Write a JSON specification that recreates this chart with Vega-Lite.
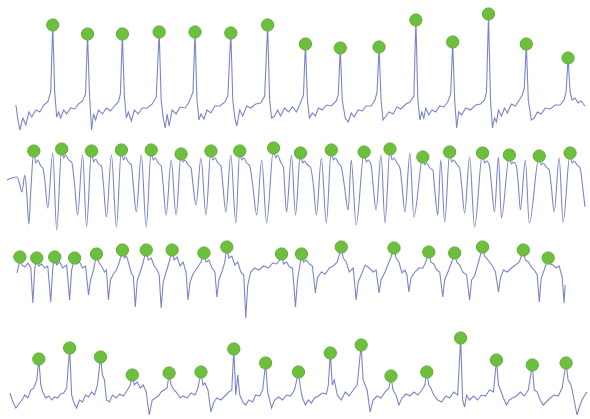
{
"$schema":"https://vega.github.io/schema/vega-lite/v6.json",
"width":590,"height":419,"autosize":{"type":"fit","contains":"padding"},"padding":0,
"background":"white",
"config":{"view":{"stroke":null}},
"data":{"values":[
{"s":1,"x":16,"y":105},{"s":1,"x":18,"y":120},{"s":1,"x":20,"y":130},{"s":1,"x":23,"y":118},{"s":1,"x":26,"y":125},{"s":1,"x":29,"y":112},{"s":1,"x":32,"y":117},{"s":1,"x":36,"y":110},{"s":1,"x":40,"y":112},{"s":1,"x":44,"y":105},{"s":1,"x":48,"y":102},{"s":1,"x":51,"y":92},{"s":1,"x":53,"y":25,"pk":1},{"s":1,"x":55,"y":92},{"s":1,"x":57,"y":117},{"s":1,"x":59,"y":112},{"s":1,"x":61,"y":118},{"s":1,"x":64,"y":110},{"s":1,"x":67,"y":114},{"s":1,"x":71,"y":108},{"s":1,"x":75,"y":109},{"s":1,"x":79,"y":104},{"s":1,"x":83,"y":101},{"s":1,"x":86,"y":94},{"s":1,"x":88,"y":34,"pk":1},{"s":1,"x":90,"y":96},{"s":1,"x":92,"y":130},{"s":1,"x":94,"y":114},{"s":1,"x":96,"y":120},{"s":1,"x":99,"y":110},{"s":1,"x":103,"y":114},{"s":1,"x":107,"y":108},{"s":1,"x":111,"y":111},{"s":1,"x":115,"y":106},{"s":1,"x":119,"y":102},{"s":1,"x":121,"y":94},{"s":1,"x":123,"y":34,"pk":1},{"s":1,"x":125,"y":96},{"s":1,"x":127,"y":118},{"s":1,"x":129,"y":112},{"s":1,"x":132,"y":121},{"s":1,"x":135,"y":110},{"s":1,"x":139,"y":114},{"s":1,"x":143,"y":108},{"s":1,"x":148,"y":108},{"s":1,"x":153,"y":104},{"s":1,"x":157,"y":97},{"s":1,"x":160,"y":32,"pk":1},{"s":1,"x":162,"y":100},{"s":1,"x":164,"y":118},{"s":1,"x":166,"y":128},{"s":1,"x":168,"y":114},{"s":1,"x":170,"y":126},{"s":1,"x":173,"y":110},{"s":1,"x":177,"y":114},{"s":1,"x":181,"y":107},{"s":1,"x":186,"y":108},{"s":1,"x":190,"y":102},{"s":1,"x":194,"y":92},{"s":1,"x":196,"y":32,"pk":1},{"s":1,"x":198,"y":100},{"s":1,"x":200,"y":120},{"s":1,"x":202,"y":114},{"s":1,"x":205,"y":119},{"s":1,"x":208,"y":110},{"s":1,"x":212,"y":113},{"s":1,"x":216,"y":106},{"s":1,"x":221,"y":106},{"s":1,"x":226,"y":102},{"s":1,"x":229,"y":96},{"s":1,"x":232,"y":33,"pk":1},{"s":1,"x":234,"y":100},{"s":1,"x":236,"y":118},{"s":1,"x":238,"y":126},{"s":1,"x":241,"y":110},{"s":1,"x":244,"y":116},{"s":1,"x":248,"y":106},{"s":1,"x":252,"y":108},{"s":1,"x":257,"y":104},{"s":1,"x":262,"y":103},{"s":1,"x":266,"y":96},{"s":1,"x":269,"y":25,"pk":1},{"s":1,"x":271,"y":100},{"s":1,"x":273,"y":118},{"s":1,"x":276,"y":116},{"s":1,"x":279,"y":110},{"s":1,"x":282,"y":116},{"s":1,"x":286,"y":108},{"s":1,"x":290,"y":112},{"s":1,"x":294,"y":107},{"s":1,"x":298,"y":112},{"s":1,"x":302,"y":103},{"s":1,"x":305,"y":95},{"s":1,"x":307,"y":44,"pk":1},{"s":1,"x":309,"y":100},{"s":1,"x":311,"y":118},{"s":1,"x":314,"y":113},{"s":1,"x":317,"y":116},{"s":1,"x":320,"y":108},{"s":1,"x":324,"y":110},{"s":1,"x":328,"y":105},{"s":1,"x":333,"y":106},{"s":1,"x":338,"y":101},{"s":1,"x":340,"y":95},{"s":1,"x":342,"y":48,"pk":1},{"s":1,"x":344,"y":100},{"s":1,"x":347,"y":118},{"s":1,"x":350,"y":122},{"s":1,"x":353,"y":113},{"s":1,"x":356,"y":117},{"s":1,"x":360,"y":110},{"s":1,"x":364,"y":111},{"s":1,"x":368,"y":106},{"s":1,"x":373,"y":106},{"s":1,"x":377,"y":100},{"s":1,"x":379,"y":92},{"s":1,"x":381,"y":47,"pk":1},{"s":1,"x":383,"y":100},{"s":1,"x":385,"y":120},{"s":1,"x":388,"y":116},{"s":1,"x":391,"y":112},{"s":1,"x":395,"y":114},{"s":1,"x":399,"y":107},{"s":1,"x":403,"y":109},{"s":1,"x":408,"y":104},{"s":1,"x":412,"y":102},{"s":1,"x":416,"y":96},{"s":1,"x":418,"y":20,"pk":1},{"s":1,"x":420,"y":100},{"s":1,"x":422,"y":120},{"s":1,"x":424,"y":112},{"s":1,"x":426,"y":118},{"s":1,"x":428,"y":108},{"s":1,"x":431,"y":115},{"s":1,"x":434,"y":110},{"s":1,"x":438,"y":112},{"s":1,"x":442,"y":106},{"s":1,"x":446,"y":107},{"s":1,"x":450,"y":102},{"s":1,"x":453,"y":94},{"s":1,"x":455,"y":42,"pk":1},{"s":1,"x":457,"y":100},{"s":1,"x":459,"y":128},{"s":1,"x":461,"y":112},{"s":1,"x":464,"y":115},{"s":1,"x":468,"y":108},{"s":1,"x":473,"y":110},{"s":1,"x":478,"y":105},{"s":1,"x":483,"y":104},{"s":1,"x":487,"y":100},{"s":1,"x":489,"y":92},{"s":1,"x":491,"y":14,"pk":1},{"s":1,"x":493,"y":100},{"s":1,"x":495,"y":128},{"s":1,"x":497,"y":118},{"s":1,"x":499,"y":122},{"s":1,"x":501,"y":110},{"s":1,"x":504,"y":116},{"s":1,"x":507,"y":108},{"s":1,"x":510,"y":113},{"s":1,"x":514,"y":104},{"s":1,"x":518,"y":106},{"s":1,"x":522,"y":100},{"s":1,"x":525,"y":95},{"s":1,"x":527,"y":88},{"s":1,"x":529,"y":44,"pk":1},{"s":1,"x":531,"y":100},{"s":1,"x":534,"y":120},{"s":1,"x":537,"y":118},{"s":1,"x":540,"y":112},{"s":1,"x":544,"y":114},{"s":1,"x":548,"y":108},{"s":1,"x":553,"y":109},{"s":1,"x":558,"y":105},{"s":1,"x":563,"y":105},{"s":1,"x":567,"y":100},{"s":1,"x":569,"y":92},{"s":1,"x":571,"y":58,"pk":1},{"s":1,"x":573,"y":92},{"s":1,"x":575,"y":100},{"s":1,"x":578,"y":98},{"s":1,"x":581,"y":103},{"s":1,"x":584,"y":101},{"s":1,"x":588,"y":106},

{"s":2,"x":7,"y":180},{"s":2,"x":12,"y":178},{"s":2,"x":17,"y":177},{"s":2,"x":20,"y":185},{"s":2,"x":22,"y":192},{"s":2,"x":25,"y":175},{"s":2,"x":27,"y":195},{"s":2,"x":29,"y":224},{"s":2,"x":31,"y":190},{"s":2,"x":34,"y":151,"pk":1},{"s":2,"x":36,"y":163},{"s":2,"x":38,"y":160},{"s":2,"x":41,"y":166},{"s":2,"x":43,"y":168},{"s":2,"x":45,"y":180},{"s":2,"x":48,"y":208},{"s":2,"x":53,"y":153},{"s":2,"x":57,"y":230},
{"s":2,"x":62,"y":149,"pk":1},{"s":2,"x":64,"y":158},{"s":2,"x":66,"y":155},{"s":2,"x":69,"y":160},{"s":2,"x":72,"y":162},{"s":2,"x":75,"y":185},{"s":2,"x":78,"y":215},{"s":2,"x":83,"y":155},{"s":2,"x":87,"y":227},
{"s":2,"x":92,"y":151,"pk":1},{"s":2,"x":94,"y":162},{"s":2,"x":96,"y":159},{"s":2,"x":99,"y":164},{"s":2,"x":102,"y":166},{"s":2,"x":104,"y":185},{"s":2,"x":107,"y":217},{"s":2,"x":112,"y":155},{"s":2,"x":117,"y":227},
{"s":2,"x":122,"y":150,"pk":1},{"s":2,"x":124,"y":160},{"s":2,"x":126,"y":157},{"s":2,"x":129,"y":162},{"s":2,"x":132,"y":165},{"s":2,"x":134,"y":185},{"s":2,"x":137,"y":212},{"s":2,"x":142,"y":155},{"s":2,"x":147,"y":227},
{"s":2,"x":152,"y":150,"pk":1},{"s":2,"x":154,"y":160},{"s":2,"x":156,"y":158},{"s":2,"x":159,"y":163},{"s":2,"x":162,"y":166},{"s":2,"x":164,"y":185},{"s":2,"x":167,"y":215},{"s":2,"x":172,"y":160},{"s":2,"x":177,"y":215},
{"s":2,"x":182,"y":154,"pk":1},{"s":2,"x":184,"y":162},{"s":2,"x":186,"y":160},{"s":2,"x":189,"y":165},{"s":2,"x":192,"y":168},{"s":2,"x":194,"y":185},{"s":2,"x":197,"y":205},{"s":2,"x":202,"y":158},{"s":2,"x":207,"y":215},
{"s":2,"x":212,"y":151,"pk":1},{"s":2,"x":214,"y":160},{"s":2,"x":216,"y":158},{"s":2,"x":219,"y":163},{"s":2,"x":222,"y":166},{"s":2,"x":224,"y":185},{"s":2,"x":227,"y":212},{"s":2,"x":232,"y":155},{"s":2,"x":237,"y":223},
{"s":2,"x":241,"y":151,"pk":1},{"s":2,"x":243,"y":160},{"s":2,"x":245,"y":158},{"s":2,"x":248,"y":163},{"s":2,"x":251,"y":166},{"s":2,"x":254,"y":185},{"s":2,"x":258,"y":215},{"s":2,"x":263,"y":160},{"s":2,"x":268,"y":223},
{"s":2,"x":275,"y":148,"pk":1},{"s":2,"x":277,"y":158},{"s":2,"x":279,"y":155},{"s":2,"x":282,"y":162},{"s":2,"x":285,"y":168},{"s":2,"x":286,"y":185},{"s":2,"x":288,"y":212},{"s":2,"x":293,"y":155},{"s":2,"x":297,"y":215},
{"s":2,"x":302,"y":153,"pk":1},{"s":2,"x":304,"y":163},{"s":2,"x":306,"y":161},{"s":2,"x":309,"y":165},{"s":2,"x":312,"y":167},{"s":2,"x":315,"y":185},{"s":2,"x":318,"y":215},{"s":2,"x":323,"y":158},{"s":2,"x":328,"y":223},
{"s":2,"x":333,"y":150,"pk":1},{"s":2,"x":335,"y":160},{"s":2,"x":337,"y":158},{"s":2,"x":340,"y":163},{"s":2,"x":343,"y":167},{"s":2,"x":346,"y":185},{"s":2,"x":350,"y":210},{"s":2,"x":353,"y":160},{"s":2,"x":358,"y":225},
{"s":2,"x":366,"y":152,"pk":1},{"s":2,"x":368,"y":162},{"s":2,"x":370,"y":160},{"s":2,"x":373,"y":165},{"s":2,"x":375,"y":185},{"s":2,"x":378,"y":210},{"s":2,"x":383,"y":155},{"s":2,"x":387,"y":223},
{"s":2,"x":392,"y":149,"pk":1},{"s":2,"x":394,"y":160},{"s":2,"x":396,"y":158},{"s":2,"x":399,"y":163},{"s":2,"x":402,"y":168},{"s":2,"x":404,"y":185},{"s":2,"x":407,"y":212},{"s":2,"x":412,"y":153},{"s":2,"x":416,"y":217},
{"s":2,"x":425,"y":157,"pk":1},{"s":2,"x":427,"y":165},{"s":2,"x":429,"y":163},{"s":2,"x":432,"y":168},{"s":2,"x":435,"y":170},{"s":2,"x":437,"y":190},{"s":2,"x":440,"y":215},{"s":2,"x":443,"y":160},{"s":2,"x":447,"y":222},
{"s":2,"x":452,"y":152,"pk":1},{"s":2,"x":454,"y":162},{"s":2,"x":456,"y":160},{"s":2,"x":459,"y":164},{"s":2,"x":462,"y":168},{"s":2,"x":464,"y":185},{"s":2,"x":467,"y":213},{"s":2,"x":472,"y":157},{"s":2,"x":477,"y":227},
{"s":2,"x":485,"y":153,"pk":1},{"s":2,"x":487,"y":163},{"s":2,"x":489,"y":161},{"s":2,"x":492,"y":166},{"s":2,"x":494,"y":185},{"s":2,"x":497,"y":212},{"s":2,"x":501,"y":157},{"s":2,"x":504,"y":218},
{"s":2,"x":512,"y":155,"pk":1},{"s":2,"x":514,"y":164},{"s":2,"x":516,"y":162},{"s":2,"x":519,"y":166},{"s":2,"x":521,"y":185},{"s":2,"x":523,"y":210},{"s":2,"x":528,"y":160},{"s":2,"x":532,"y":223},
{"s":2,"x":542,"y":156,"pk":1},{"s":2,"x":544,"y":165},{"s":2,"x":546,"y":163},{"s":2,"x":549,"y":167},{"s":2,"x":552,"y":170},{"s":2,"x":554,"y":185},{"s":2,"x":557,"y":212},{"s":2,"x":562,"y":158},{"s":2,"x":566,"y":222},
{"s":2,"x":573,"y":153,"pk":1},{"s":2,"x":575,"y":163},{"s":2,"x":577,"y":161},{"s":2,"x":580,"y":165},{"s":2,"x":583,"y":168},{"s":2,"x":586,"y":190},{"s":2,"x":588,"y":207},

{"s":3,"x":17,"y":273},{"s":3,"x":19,"y":265},{"s":3,"x":20,"y":257,"pk":1},{"s":3,"x":22,"y":265},{"s":3,"x":25,"y":267},{"s":3,"x":28,"y":263},{"s":3,"x":31,"y":268},{"s":3,"x":33,"y":303},{"s":3,"x":35,"y":268},{"s":3,"x":37,"y":258,"pk":1},{"s":3,"x":39,"y":266},{"s":3,"x":42,"y":264},{"s":3,"x":45,"y":268},{"s":3,"x":48,"y":266},{"s":3,"x":51,"y":302},{"s":3,"x":53,"y":268},{"s":3,"x":55,"y":257,"pk":1},{"s":3,"x":57,"y":265},{"s":3,"x":60,"y":262},{"s":3,"x":63,"y":268},{"s":3,"x":67,"y":265},{"s":3,"x":70,"y":300},{"s":3,"x":72,"y":270},{"s":3,"x":75,"y":258,"pk":1},{"s":3,"x":77,"y":264},{"s":3,"x":80,"y":262},{"s":3,"x":83,"y":268},{"s":3,"x":86,"y":266},{"s":3,"x":89,"y":295},{"s":3,"x":91,"y":280},{"s":3,"x":94,"y":270},{"s":3,"x":97,"y":254,"pk":1},{"s":3,"x":99,"y":262},{"s":3,"x":102,"y":266},{"s":3,"x":105,"y":272},{"s":3,"x":107,"y":270},{"s":3,"x":109,"y":300},{"s":3,"x":111,"y":280},{"s":3,"x":114,"y":274},{"s":3,"x":117,"y":270},{"s":3,"x":120,"y":262},{"s":3,"x":123,"y":250,"pk":1},{"s":3,"x":125,"y":258},{"s":3,"x":127,"y":256},{"s":3,"x":129,"y":262},{"s":3,"x":132,"y":273},{"s":3,"x":134,"y":276},{"s":3,"x":136,"y":307},{"s":3,"x":138,"y":280},{"s":3,"x":141,"y":272},{"s":3,"x":144,"y":262},{"s":3,"x":147,"y":250,"pk":1},{"s":3,"x":149,"y":260},{"s":3,"x":152,"y":258},{"s":3,"x":155,"y":266},{"s":3,"x":158,"y":270},{"s":3,"x":160,"y":275},{"s":3,"x":162,"y":308},{"s":3,"x":164,"y":282},{"s":3,"x":167,"y":272},{"s":3,"x":170,"y":262},{"s":3,"x":173,"y":250,"pk":1},{"s":3,"x":175,"y":260},{"s":3,"x":178,"y":257},{"s":3,"x":181,"y":266},{"s":3,"x":184,"y":262},{"s":3,"x":187,"y":272},{"s":3,"x":189,"y":300},{"s":3,"x":191,"y":282},{"s":3,"x":194,"y":274},{"s":3,"x":198,"y":268},{"s":3,"x":202,"y":262},{"s":3,"x":205,"y":253,"pk":1},{"s":3,"x":207,"y":262},{"s":3,"x":210,"y":260},{"s":3,"x":213,"y":268},{"s":3,"x":216,"y":272},{"s":3,"x":218,"y":297},{"s":3,"x":220,"y":280},{"s":3,"x":223,"y":272},{"s":3,"x":226,"y":262},{"s":3,"x":228,"y":247,"pk":1},{"s":3,"x":230,"y":258},{"s":3,"x":233,"y":256},{"s":3,"x":236,"y":265},{"s":3,"x":239,"y":262},{"s":3,"x":242,"y":272},{"s":3,"x":245,"y":275},{"s":3,"x":247,"y":318},{"s":3,"x":249,"y":285},{"s":3,"x":252,"y":272},{"s":3,"x":256,"y":268},{"s":3,"x":260,"y":270},{"s":3,"x":265,"y":266},{"s":3,"x":270,"y":268},{"s":3,"x":274,"y":263},{"s":3,"x":278,"y":264},{"s":3,"x":281,"y":260},{"s":3,"x":283,"y":254,"pk":1},{"s":3,"x":285,"y":264},{"s":3,"x":288,"y":262},{"s":3,"x":291,"y":267},{"s":3,"x":294,"y":268},{"s":3,"x":297,"y":307},{"s":3,"x":299,"y":280},{"s":3,"x":301,"y":268},{"s":3,"x":303,"y":254,"pk":1},{"s":3,"x":305,"y":262},{"s":3,"x":308,"y":260},{"s":3,"x":311,"y":264},{"s":3,"x":314,"y":266},{"s":3,"x":317,"y":293},{"s":3,"x":319,"y":278},{"s":3,"x":323,"y":272},{"s":3,"x":327,"y":274},{"s":3,"x":331,"y":268},{"s":3,"x":335,"y":266},{"s":3,"x":339,"y":262},{"s":3,"x":343,"y":247,"pk":1},{"s":3,"x":345,"y":258},{"s":3,"x":348,"y":262},{"s":3,"x":351,"y":272},{"s":3,"x":355,"y":268},{"s":3,"x":358,"y":300},{"s":3,"x":360,"y":282},{"s":3,"x":363,"y":275},{"s":3,"x":367,"y":265},{"s":3,"x":371,"y":268},{"s":3,"x":375,"y":272},{"s":3,"x":378,"y":270},{"s":3,"x":381,"y":293},{"s":3,"x":383,"y":280},{"s":3,"x":387,"y":272},{"s":3,"x":391,"y":262},{"s":3,"x":393,"y":257},{"s":3,"x":396,"y":248,"pk":1},{"s":3,"x":398,"y":258},{"s":3,"x":401,"y":262},{"s":3,"x":404,"y":273},{"s":3,"x":407,"y":270},{"s":3,"x":409,"y":275},{"s":3,"x":411,"y":292},{"s":3,"x":413,"y":278},{"s":3,"x":417,"y":272},{"s":3,"x":421,"y":268},{"s":3,"x":425,"y":268},{"s":3,"x":428,"y":262},{"s":3,"x":431,"y":252,"pk":1},{"s":3,"x":433,"y":262},{"s":3,"x":436,"y":264},{"s":3,"x":439,"y":270},{"s":3,"x":442,"y":272},{"s":3,"x":445,"y":297},{"s":3,"x":447,"y":280},{"s":3,"x":451,"y":270},{"s":3,"x":454,"y":262},{"s":3,"x":457,"y":253,"pk":1},{"s":3,"x":459,"y":262},{"s":3,"x":462,"y":265},{"s":3,"x":465,"y":272},{"s":3,"x":469,"y":275},{"s":3,"x":472,"y":300},{"s":3,"x":474,"y":280},{"s":3,"x":477,"y":276},{"s":3,"x":481,"y":262},{"s":3,"x":485,"y":247,"pk":1},{"s":3,"x":487,"y":256},{"s":3,"x":489,"y":258},{"s":3,"x":492,"y":262},{"s":3,"x":495,"y":266},{"s":3,"x":498,"y":272},{"s":3,"x":501,"y":292},{"s":3,"x":503,"y":278},{"s":3,"x":506,"y":270},{"s":3,"x":510,"y":272},{"s":3,"x":514,"y":268},{"s":3,"x":518,"y":265},{"s":3,"x":522,"y":262},{"s":3,"x":526,"y":250,"pk":1},{"s":3,"x":528,"y":260},{"s":3,"x":531,"y":262},{"s":3,"x":534,"y":267},{"s":3,"x":537,"y":270},{"s":3,"x":540,"y":275},{"s":3,"x":542,"y":302},{"s":3,"x":544,"y":278},{"s":3,"x":547,"y":270},{"s":3,"x":551,"y":258,"pk":1},{"s":3,"x":553,"y":264},{"s":3,"x":556,"y":265},{"s":3,"x":559,"y":268},{"s":3,"x":562,"y":266},{"s":3,"x":565,"y":277},{"s":3,"x":567,"y":303},{"s":3,"x":568,"y":285},

{"s":4,"x":10,"y":393},{"s":4,"x":13,"y":402},{"s":4,"x":16,"y":408},{"s":4,"x":19,"y":404},{"s":4,"x":22,"y":400},{"s":4,"x":25,"y":395},{"s":4,"x":28,"y":398},{"s":4,"x":31,"y":390},{"s":4,"x":34,"y":388},{"s":4,"x":37,"y":380},{"s":4,"x":39,"y":359,"pk":1},{"s":4,"x":41,"y":385},{"s":4,"x":43,"y":392},{"s":4,"x":46,"y":398},{"s":4,"x":49,"y":396},{"s":4,"x":52,"y":400},{"s":4,"x":55,"y":397},{"s":4,"x":58,"y":398},{"s":4,"x":61,"y":394},{"s":4,"x":64,"y":393},{"s":4,"x":67,"y":388},{"s":4,"x":70,"y":348,"pk":1},{"s":4,"x":72,"y":395},{"s":4,"x":74,"y":402},{"s":4,"x":77,"y":408},{"s":4,"x":80,"y":400},{"s":4,"x":83,"y":402},{"s":4,"x":86,"y":395},{"s":4,"x":89,"y":397},{"s":4,"x":92,"y":392},{"s":4,"x":95,"y":395},{"s":4,"x":98,"y":385},{"s":4,"x":101,"y":357,"pk":1},{"s":4,"x":103,"y":375},{"s":4,"x":105,"y":380},{"s":4,"x":107,"y":400},{"s":4,"x":110,"y":402},{"s":4,"x":113,"y":395},{"s":4,"x":117,"y":398},{"s":4,"x":120,"y":394},{"s":4,"x":124,"y":396},{"s":4,"x":128,"y":390},{"s":4,"x":131,"y":385},{"s":4,"x":133,"y":375,"pk":1},{"s":4,"x":135,"y":385},{"s":4,"x":138,"y":382},{"s":4,"x":141,"y":388},{"s":4,"x":144,"y":385},{"s":4,"x":147,"y":392},{"s":4,"x":150,"y":415},{"s":4,"x":153,"y":400},{"s":4,"x":156,"y":398},{"s":4,"x":159,"y":396},{"s":4,"x":162,"y":392},{"s":4,"x":165,"y":390},{"s":4,"x":168,"y":388},{"s":4,"x":170,"y":373,"pk":1},{"s":4,"x":172,"y":385},{"s":4,"x":175,"y":390},{"s":4,"x":178,"y":393},{"s":4,"x":181,"y":398},{"s":4,"x":184,"y":396},{"s":4,"x":188,"y":398},{"s":4,"x":192,"y":393},{"s":4,"x":196,"y":395},{"s":4,"x":199,"y":388},{"s":4,"x":202,"y":372,"pk":1},{"s":4,"x":204,"y":385},{"s":4,"x":206,"y":383},{"s":4,"x":209,"y":390},{"s":4,"x":212,"y":412},{"s":4,"x":215,"y":402},{"s":4,"x":218,"y":398},{"s":4,"x":222,"y":400},{"s":4,"x":226,"y":396},{"s":4,"x":230,"y":392},{"s":4,"x":233,"y":390},{"s":4,"x":235,"y":349,"pk":1},{"s":4,"x":237,"y":395},{"s":4,"x":239,"y":375},{"s":4,"x":241,"y":395},{"s":4,"x":244,"y":402},{"s":4,"x":247,"y":405},{"s":4,"x":250,"y":400},{"s":4,"x":254,"y":402},{"s":4,"x":257,"y":395},{"s":4,"x":261,"y":396},{"s":4,"x":264,"y":390},{"s":4,"x":267,"y":363,"pk":1},{"s":4,"x":269,"y":392},{"s":4,"x":271,"y":400},{"s":4,"x":273,"y":408},{"s":4,"x":276,"y":400},{"s":4,"x":280,"y":397},{"s":4,"x":284,"y":400},{"s":4,"x":288,"y":395},{"s":4,"x":292,"y":396},{"s":4,"x":296,"y":390},{"s":4,"x":300,"y":372,"pk":1},{"s":4,"x":302,"y":388},{"s":4,"x":304,"y":398},{"s":4,"x":307,"y":405},{"s":4,"x":310,"y":400},{"s":4,"x":313,"y":403},{"s":4,"x":316,"y":398},{"s":4,"x":320,"y":396},{"s":4,"x":324,"y":393},{"s":4,"x":328,"y":394},{"s":4,"x":330,"y":385},{"s":4,"x":332,"y":353,"pk":1},{"s":4,"x":334,"y":385},{"s":4,"x":336,"y":380},{"s":4,"x":339,"y":395},{"s":4,"x":343,"y":400},{"s":4,"x":347,"y":392},{"s":4,"x":351,"y":396},{"s":4,"x":355,"y":390},{"s":4,"x":359,"y":385},{"s":4,"x":363,"y":345,"pk":1},{"s":4,"x":365,"y":380},{"s":4,"x":367,"y":385},{"s":4,"x":369,"y":390},{"s":4,"x":372,"y":412},{"s":4,"x":375,"y":400},{"s":4,"x":379,"y":396},{"s":4,"x":383,"y":398},{"s":4,"x":387,"y":392},{"s":4,"x":391,"y":388},{"s":4,"x":393,"y":376,"pk":1},{"s":4,"x":395,"y":390},{"s":4,"x":398,"y":395},{"s":4,"x":401,"y":405},{"s":4,"x":404,"y":398},{"s":4,"x":408,"y":394},{"s":4,"x":412,"y":396},{"s":4,"x":416,"y":392},{"s":4,"x":420,"y":395},{"s":4,"x":424,"y":390},{"s":4,"x":427,"y":385},{"s":4,"x":429,"y":372,"pk":1},{"s":4,"x":431,"y":385},{"s":4,"x":433,"y":388},{"s":4,"x":436,"y":395},{"s":4,"x":440,"y":400},{"s":4,"x":444,"y":402},{"s":4,"x":448,"y":396},{"s":4,"x":452,"y":398},{"s":4,"x":456,"y":392},{"s":4,"x":460,"y":395},{"s":4,"x":463,"y":338,"pk":1},{"s":4,"x":465,"y":400},{"s":4,"x":467,"y":407},{"s":4,"x":469,"y":395},{"s":4,"x":472,"y":400},{"s":4,"x":476,"y":396},{"s":4,"x":480,"y":400},{"s":4,"x":484,"y":395},{"s":4,"x":488,"y":396},{"s":4,"x":492,"y":390},{"s":4,"x":496,"y":392},{"s":4,"x":499,"y":360,"pk":1},{"s":4,"x":501,"y":385},{"s":4,"x":503,"y":390},{"s":4,"x":506,"y":398},{"s":4,"x":509,"y":405},{"s":4,"x":512,"y":400},{"s":4,"x":515,"y":398},{"s":4,"x":519,"y":396},{"s":4,"x":523,"y":392},{"s":4,"x":527,"y":396},{"s":4,"x":531,"y":390},{"s":4,"x":535,"y":365,"pk":1},{"s":4,"x":537,"y":390},{"s":4,"x":540,"y":392},{"s":4,"x":543,"y":400},{"s":4,"x":546,"y":405},{"s":4,"x":549,"y":402},{"s":4,"x":553,"y":398},{"s":4,"x":557,"y":395},{"s":4,"x":561,"y":396},{"s":4,"x":565,"y":388},{"s":4,"x":569,"y":363,"pk":1},{"s":4,"x":571,"y":380},{"s":4,"x":574,"y":385},{"s":4,"x":577,"y":400},{"s":4,"x":580,"y":415},{"s":4,"x":583,"y":405},{"s":4,"x":586,"y":398},{"s":4,"x":590,"y":392}
]},
"encoding":{
"x":{"field":"x","type":"quantitative","scale":{"domain":[0,590],"nice":false,"zero":false},"axis":null},
"y":{"field":"y","type":"quantitative","scale":{"domain":[0,419],"reverse":true,"nice":false,"zero":false},"axis":null}
},
"layer":[
{"transform":[{"filter":"datum.s != 2"}],"mark":{"type":"line","color":"#7a86c9","strokeWidth":1.1,"clip":false},"encoding":{"detail":{"field":"s","type":"nominal"}}},
{"transform":[{"filter":"datum.s == 2"}],"mark":{"type":"line","color":"#7a86c9","strokeWidth":1.1,"interpolate":"monotone","clip":false},"encoding":{}},
{"transform":[{"filter":"datum.pk"}],"mark":{"type":"point","filled":true,"fill":"#6fbf3f","stroke":"#5eae33","strokeWidth":1,"opacity":1,"size":150,"clip":false},"encoding":{}}
]
}
